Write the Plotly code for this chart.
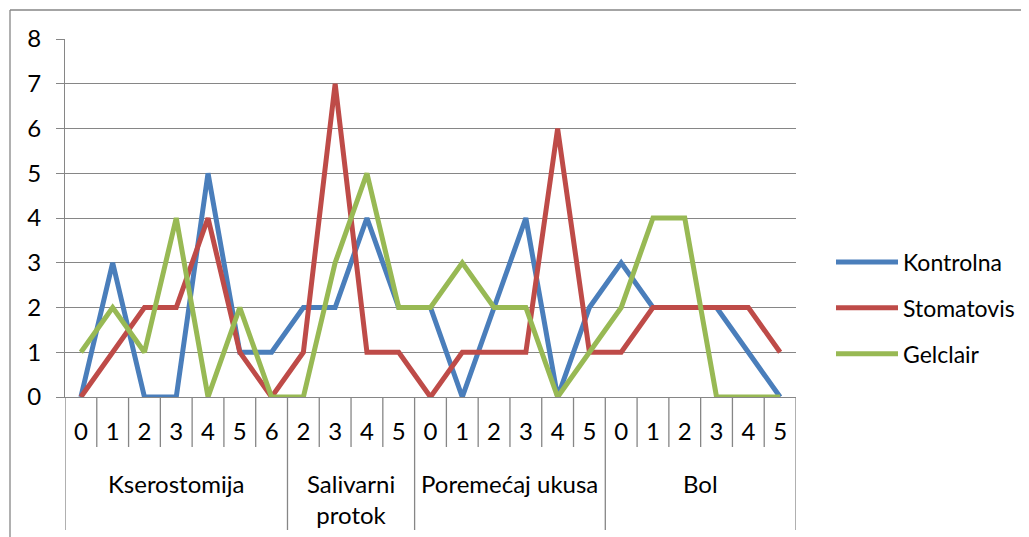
import plotly.graph_objects as go

groups = ["Kserostomija", "Salivarni<br>protok", "Poremećaj ukusa", "Bol"]
sub_labels = [
    ["0", "1", "2", "3", "4", "5", "6"],
    ["2", "3", "4", "5"],
    ["0", "1", "2", "3", "4", "5"],
    ["0", "1", "2", "3", "4", "5"],
]
kontrolna = [0, 3, 0, 0, 5, 1, 1, 2, 2, 4, 2, 2, 0, 2, 4, 0, 2, 3, 2, 2, 2, 1, 0]
stomatovis = [0, 1, 2, 2, 4, 1, 0, 1, 7, 1, 1, 0, 1, 1, 1, 6, 1, 1, 2, 2, 2, 2, 1]
gelclair = [1, 2, 1, 4, 0, 2, 0, 0, 3, 5, 2, 2, 3, 2, 2, 0, 1, 2, 4, 4, 0, 0, 0]
series = [("Kontrolna", kontrolna, "#4A7EBB"),
          ("Stomatovis", stomatovis, "#BE4B48"),
          ("Gelclair", gelclair, "#98B954")]
y_ticks = list(range(0, 9))

flat_labels = [s for g in sub_labels for s in g]
idx = list(range(len(flat_labels)))

FONT = "Lato, Carlito, Calibri, sans-serif"
FS = 24
AX = "#868686"

fig = go.Figure()
for i, (name, vals, col) in enumerate(series):
    fig.add_trace(go.Scatter(x=idx, y=vals, mode="lines", name=name,
                             line=dict(color=col, width=5), legendgroup=name))

# plot-area geometry in screen pixels (page has an 8px body offset)
OFF = 8
L, R, T, B = 65, 796, 39, 397
W, H = 1029, 537
def py(p):
    return (B - p) / (B - T)
def px(p):
    return (p - L) / (R - L)

shapes = []
n = len(flat_labels)
group_bounds = [0]
for g in sub_labels:
    group_bounds.append(group_bounds[-1] + len(g))
for k in range(n + 1):
    is_group = k in group_bounds
    shapes.append(dict(type="line", xref="x", yref="paper",
                       x0=k - 0.5, x1=k - 0.5, y0=0, y1=py(530) if is_group else py(447),
                       line=dict(color=AX, width=1.3)))
# outer chart border (top and left)
shapes.append(dict(type="line", xref="paper", yref="paper", x0=px(10), x1=px(1040),
                   y0=py(10), y1=py(10), line=dict(color=AX, width=1.3)))
shapes.append(dict(type="line", xref="paper", yref="paper", x0=px(10), x1=px(10),
                   y0=py(10), y1=py(545), line=dict(color=AX, width=1.3)))

annotations = []
for gi, g in enumerate(groups):
    center = (group_bounds[gi] + group_bounds[gi + 1] - 1) / 2
    annotations.append(dict(x=center, xref="x", y=py(467), yref="paper",
                            text=g, showarrow=False, yanchor="top", xanchor="center",
                            font=dict(family=FONT, size=FS, color="#000")))

fig.update_layout(
    width=W, height=H,
    margin=dict(l=L - OFF, r=W - (R - OFF), t=T - OFF, b=H - (B - OFF), autoexpand=False),
    paper_bgcolor="white", plot_bgcolor="white",
    font=dict(family=FONT, size=FS, color="#000"),
    showlegend=True,
    legend=dict(x=px(831), y=py(308), xanchor="left", yanchor="middle",
                font=dict(family=FONT, size=23, color="#000"),
                tracegroupgap=13, itemwidth=62, bgcolor="rgba(0,0,0,0)"),
    shapes=shapes, annotations=annotations,
    xaxis=dict(range=[-0.5, n - 0.5], tickmode="array", tickvals=idx, ticktext=flat_labels,
               showgrid=False, zeroline=False, showline=True, linecolor=AX, linewidth=1.3,
               ticks="", ticklabelstandoff=13, tickfont=dict(family=FONT, size=FS)),
    yaxis=dict(range=[0, 8], tickmode="array", tickvals=y_ticks,
               showgrid=True, gridcolor=AX, gridwidth=1.3, zeroline=False,
               showline=True, linecolor=AX, linewidth=1.3,
               ticks="outside", ticklen=8, tickcolor=AX, tickwidth=1.3,
               ticklabelstandoff=10, tickfont=dict(family=FONT, size=FS)),
)

fig.write_html("out.html")
